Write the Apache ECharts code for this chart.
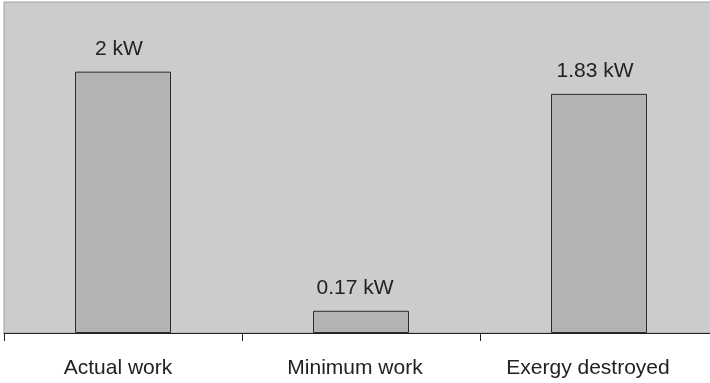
<!DOCTYPE html>
<html>
<head>
<meta charset="utf-8">
<script src="https://cdn.jsdelivr.net/npm/echarts@6/dist/echarts.min.js"></script>
<style>html,body{margin:0;padding:0;background:#fff;overflow:hidden;width:710px;height:383px;}#c{width:720px;height:383px;}</style>
</head>
<body>
<div id="c"></div>
<script>
const categories = ['Actual work', 'Minimum work', 'Exergy destroyed'];
const values = [2, 0.17, 1.83];
const valueUnit = ' kW';

// small leftward nudges of the printed texts, as seen in the reference
const catLabelShift = [5, 6, 11];
const valLabelShift = [4, 6, 4];

const chart = echarts.init(document.getElementById('c'), null, {renderer: 'canvas'});
const font = "'Liberation Sans', Arial, Helvetica, sans-serif";
chart.setOption({
  animation: false,
  backgroundColor: '#ffffff',
  grid: {
    left: 4, top: 2, right: 2, height: 331,
    show: true, backgroundColor: '#cbcccd', borderColor: '#a0a0a0', borderWidth: 1
  },
  xAxis: {
    type: 'category',
    data: categories.map((c, i) => ({
      value: c,
      textStyle: {padding: [0, catLabelShift[i] * 2, 0, 0]}
    })),
    axisLine: {lineStyle: {color: '#222', width: 1}},
    axisTick: {show: true, length: 8, lineStyle: {color: '#222'}},
    axisLabel: {color: '#222', fontSize: 21, fontFamily: font, margin: 25}
  },
  yAxis: {
    type: 'value', min: 0, max: 2.533,
    show: false,
    splitLine: {show: false}
  },
  series: [{
    type: 'bar',
    data: values.map((v, i) => ({value: v, label: {offset: [-valLabelShift[i], 0]}})),
    barWidth: 96,
    itemStyle: {color: '#b2b3b5', borderColor: '#2a2a2a', borderWidth: 1},
    label: {
      show: true, position: 'top', distance: 12,
      color: '#222', fontSize: 21, fontFamily: font,
      formatter: p => p.value + valueUnit
    }
  }]
});
</script>
</body>
</html>
